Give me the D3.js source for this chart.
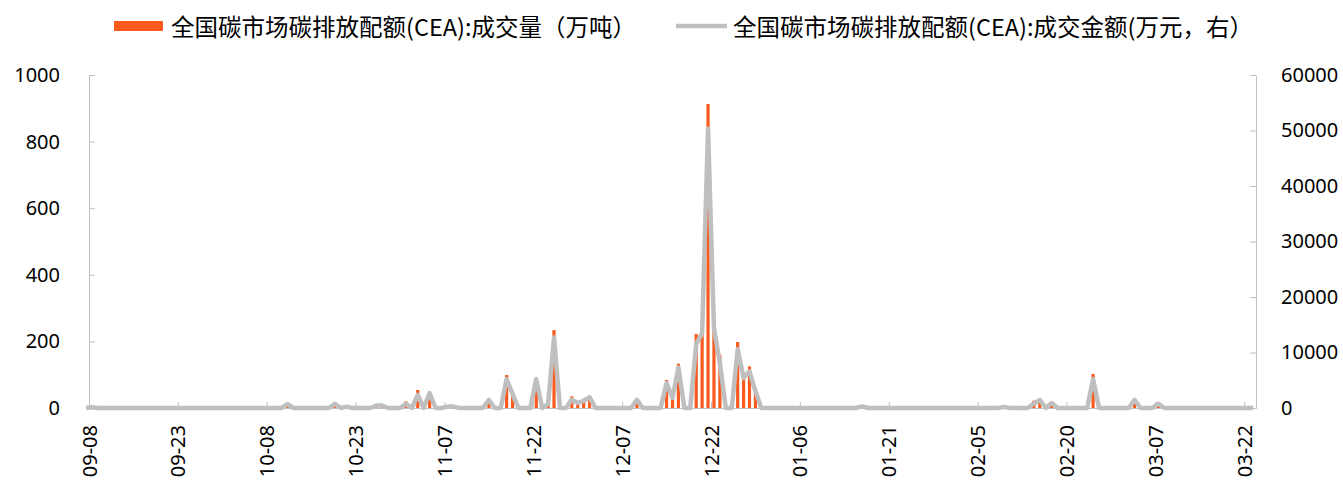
<!DOCTYPE html>
<html><head><meta charset="utf-8">
<script src="https://cdn.jsdelivr.net/npm/d3@7/dist/d3.min.js"></script>
<style>
body{margin:0;background:#fff;}
svg{display:block;}
</style></head><body>
<svg id="chart" width="1343" height="482"></svg>
<script>
// ---------------- data ----------------
const axisStart = "2021-09-08";
const axisEnd = "2022-03-24";
const tradeDates = ["2021-09-09","2021-10-12","2021-10-20","2021-10-22","2021-10-27","2021-10-28",
  "2021-11-01","2021-11-03","2021-11-05","2021-11-08","2021-11-09","2021-11-15","2021-11-18","2021-11-19",
  "2021-11-23","2021-11-25","2021-11-26","2021-11-29","2021-11-30","2021-12-01","2021-12-02","2021-12-10",
  "2021-12-15","2021-12-16","2021-12-17","2021-12-20","2021-12-21","2021-12-22","2021-12-23","2021-12-24",
  "2021-12-27","2021-12-28","2021-12-29","2021-12-30","2022-01-17","2022-02-10","2022-02-15","2022-02-16",
  "2022-02-18","2022-02-25","2022-03-04","2022-03-08"];
// 成交量（万吨）
const volumes = [4,10,10,4,8,8,
  20,54,45,5,5,22,99,51,
  62,10,234,35,19,25,36,18,
  84,36,133,222,232,913,270,160,
  198,103,125,52,6,4,22,24,
  10,102,14,10];
// 成交金额（万元）
const amounts = [150,700,750,250,450,450,
  750,2350,2700,250,250,1450,5200,2500,
  5200,700,12700,1500,900,1300,1950,1450,
  4500,1800,7300,11500,13500,50300,14400,8000,
  10600,5400,6600,3000,300,200,800,1450,
  900,5200,1450,800];
const leftTicks = [0,200,400,600,800,1000];
const rightTicks = [0,10000,20000,30000,40000,50000,60000];
const xTickLabels = ["09-08","09-23","10-08","10-23","11-07","11-22","12-07","12-22","01-06","01-21","02-05","02-20","03-07","03-22"];
const seriesNames = ["全国碳市场碳排放配额(CEA):成交量（万吨）","全国碳市场碳排放配额(CEA):成交金额(万元，右）"];

// ---------------- build ----------------
const parse = d3.utcParse("%Y-%m-%d");
const t0 = parse(axisStart), t1 = parse(axisEnd);
const allDays = d3.utcDay.range(t0, d3.utcDay.offset(t1, 1));
const volMap = new Map(), amtMap = new Map();
tradeDates.forEach((d, i) => { volMap.set(d, volumes[i]); amtMap.set(d, amounts[i]); });
const fmtKey = d3.utcFormat("%Y-%m-%d");
const series = allDays.map(d => ({date: d, vol: volMap.get(fmtKey(d)) || 0, amt: amtMap.get(fmtKey(d)) || 0}));

const L = 89, R = 1256, T = 75, B = 408;
const orange = "#FA5A1E", grey = "#BFBFBF", axisCol = "#BFBFBF";
const x = d3.scaleUtc().domain([t0, t1]).range([L, R]);
const yL = d3.scaleLinear().domain([0, 1000]).range([B, T]);
const yR = d3.scaleLinear().domain([0, 60000]).range([B, T]);
const px = d => x(d3.utcHour.offset(d, -12));
const barW = 3.2;

const svg = d3.select("#chart");
const font = '"Noto Sans","Open Sans",sans-serif';
const cjk = '"Noto Sans CJK SC","Noto Sans",sans-serif';

// bars
svg.append("g").selectAll("rect").data(series.filter(d => d.vol > 0)).join("rect")
  .attr("x", d => px(d.date) - barW / 2)
  .attr("y", d => yL(d.vol))
  .attr("width", barW)
  .attr("height", d => yL(0) - yL(d.vol))
  .attr("fill", orange);

// axes
const tickDates = xTickLabels.map((_, i) => d3.utcDay.offset(t0, 15 * i));
const gx = svg.append("g").attr("transform", `translate(0,${B})`)
  .call(d3.axisBottom(x).tickValues(tickDates).tickFormat((d, i) => xTickLabels[i]).tickSizeInner(-6).tickSizeOuter(0));
gx.select(".domain").attr("stroke", axisCol);
gx.selectAll(".tick line").attr("stroke", axisCol);
gx.selectAll(".tick text")
  .attr("transform", "rotate(-90)")
  .attr("text-anchor", "end")
  .attr("x", -17).attr("y", 0).attr("dy", "0.35em")
  .attr("font-family", font).attr("font-size", 20).attr("fill", "#000");

const gl = svg.append("g").attr("transform", `translate(${L},0)`)
  .call(d3.axisLeft(yL).tickValues(leftTicks).tickFormat(d3.format("d")).tickSizeInner(-6).tickSizeOuter(0).tickPadding(29));
gl.select(".domain").attr("stroke", axisCol);
gl.selectAll(".tick line").attr("stroke", axisCol);
gl.selectAll(".tick text").attr("font-family", font).attr("font-size", 20).attr("fill", "#000");

const gr = svg.append("g").attr("transform", `translate(${R},0)`)
  .call(d3.axisRight(yR).tickValues(rightTicks).tickFormat(d3.format("d")).tickSizeInner(-6).tickSizeOuter(0).tickPadding(25));
gr.select(".domain").attr("stroke", axisCol);
gr.selectAll(".tick line").attr("stroke", axisCol);
gr.selectAll(".tick text").attr("font-family", font).attr("font-size", 20).attr("fill", "#000");

// line
svg.append("path").datum(series)
  .attr("fill", "none").attr("stroke", grey).attr("stroke-width", 4.5).attr("stroke-linejoin", "round")
  .attr("d", d3.line().x(d => px(d.date)).y(d => yR(d.amt)));

// legend
const lg = svg.append("g");
lg.append("rect").attr("x", 114).attr("y", 21).attr("width", 49).attr("height", 10).attr("fill", orange);
lg.append("text").attr("x", 171).attr("y", 26).attr("dominant-baseline", "central")
  .attr("font-family", cjk).attr("font-size", 23.5).attr("fill", "#000").text(seriesNames[0]);
lg.append("line").attr("x1", 676).attr("x2", 727).attr("y1", 26).attr("y2", 26)
  .attr("stroke", grey).attr("stroke-width", 4.5);
lg.append("text").attr("x", 733).attr("y", 26).attr("dominant-baseline", "central")
  .attr("font-family", cjk).attr("font-size", 23.5).attr("fill", "#000").text(seriesNames[1]);
</script>
</body></html>
